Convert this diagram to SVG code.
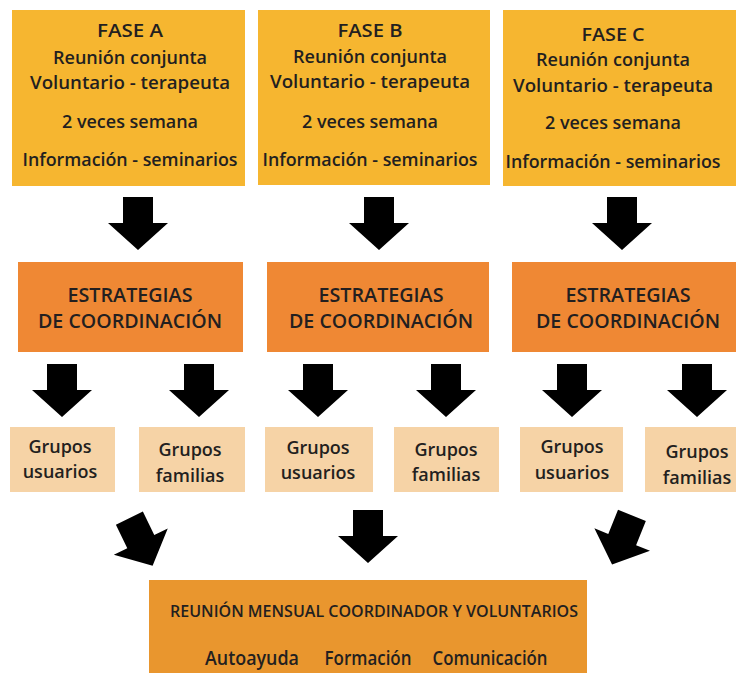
<svg xmlns="http://www.w3.org/2000/svg" width="736" height="673" viewBox="0 0 736 673">
<style>
text{font-family:"Open Sans","Liberation Sans",Arial,sans-serif;font-weight:600;fill:#231f20;text-anchor:middle}
.t1{font-size:18px}
.t2{font-size:19px}
.t3{font-size:19px}
.t5{font-size:18px}
.t4{font-size:16px}
.fase{fill:#f6b630}
.est{fill:#ef8834}
.grp{fill:#f6d3a6}
.reu{fill:#e9962e}
.arr{fill:#000}
</style>
<defs>
<path id="arrow" d="M-15,0 H15 V26 H30 L0,53 L-30,26 H-15 Z"/>
</defs>
<rect width="736" height="673" fill="#fff"/>

<g id="faseA">
<rect class="fase" x="12" y="10" width="233" height="176"/>
<text class="t1" x="130" y="37" textLength="66" lengthAdjust="spacingAndGlyphs">FASE A</text>
<text class="t1" x="130" y="64" textLength="154" lengthAdjust="spacingAndGlyphs">Reunión conjunta</text>
<text class="t1" x="130" y="89" textLength="200" lengthAdjust="spacingAndGlyphs">Voluntario - terapeuta</text>
<text class="t1" x="130" y="128" textLength="136" lengthAdjust="spacingAndGlyphs">2 veces semana</text>
<text class="t1" x="130" y="166" textLength="215" lengthAdjust="spacingAndGlyphs">Información - seminarios</text>
</g>
<g id="faseB">
<rect class="fase" x="258" y="10" width="232" height="175"/>
<text class="t1" x="370" y="37" textLength="65" lengthAdjust="spacingAndGlyphs">FASE B</text>
<text class="t1" x="370" y="63" textLength="154" lengthAdjust="spacingAndGlyphs">Reunión conjunta</text>
<text class="t1" x="370" y="88" textLength="200" lengthAdjust="spacingAndGlyphs">Voluntario - terapeuta</text>
<text class="t1" x="370" y="128" textLength="136" lengthAdjust="spacingAndGlyphs">2 veces semana</text>
<text class="t1" x="370" y="166" textLength="215" lengthAdjust="spacingAndGlyphs">Información - seminarios</text>
</g>
<g id="faseC">
<rect class="fase" x="503" y="10" width="233" height="176"/>
<text class="t1" x="613" y="41" textLength="63" lengthAdjust="spacingAndGlyphs">FASE C</text>
<text class="t1" x="613" y="66" textLength="154" lengthAdjust="spacingAndGlyphs">Reunión conjunta</text>
<text class="t1" x="613" y="92" textLength="200" lengthAdjust="spacingAndGlyphs">Voluntario - terapeuta</text>
<text class="t1" x="613" y="129" textLength="136" lengthAdjust="spacingAndGlyphs">2 veces semana</text>
<text class="t1" x="613" y="168" textLength="215" lengthAdjust="spacingAndGlyphs">Información - seminarios</text>
</g>

<g id="estA">
<rect class="est" x="18" y="262" width="225" height="90"/>
<text class="t2" x="130" y="302" textLength="125" lengthAdjust="spacingAndGlyphs">ESTRATEGIAS</text>
<text class="t2" x="130" y="328" textLength="184" lengthAdjust="spacingAndGlyphs">DE COORDINACIÓN</text>
</g>
<g id="estB">
<rect class="est" x="267" y="262" width="222" height="90"/>
<text class="t2" x="381" y="302" textLength="125" lengthAdjust="spacingAndGlyphs">ESTRATEGIAS</text>
<text class="t2" x="381" y="328" textLength="184" lengthAdjust="spacingAndGlyphs">DE COORDINACIÓN</text>
</g>
<g id="estC">
<rect class="est" x="512" y="262" width="224" height="90"/>
<text class="t2" x="628" y="302" textLength="125" lengthAdjust="spacingAndGlyphs">ESTRATEGIAS</text>
<text class="t2" x="628" y="328" textLength="184" lengthAdjust="spacingAndGlyphs">DE COORDINACIÓN</text>
</g>

<g id="grupoA1">
<rect class="grp" x="10" y="427" width="105" height="65"/>
<text class="t5" x="60" y="453">Grupos</text>
<text class="t5" x="60" y="478">usuarios</text>
</g>
<g id="grupoA2">
<rect class="grp" x="139" y="427" width="106" height="65"/>
<text class="t5" x="190" y="456">Grupos</text>
<text class="t5" x="190" y="482">familias</text>
</g>
<g id="grupoB1">
<rect class="grp" x="265" y="427" width="108" height="65"/>
<text class="t5" x="318" y="454">Grupos</text>
<text class="t5" x="318" y="479">usuarios</text>
</g>
<g id="grupoB2">
<rect class="grp" x="394" y="427" width="105" height="65"/>
<text class="t5" x="446" y="456">Grupos</text>
<text class="t5" x="446" y="481">familias</text>
</g>
<g id="grupoC1">
<rect class="grp" x="520" y="427" width="103" height="65"/>
<text class="t5" x="572" y="453">Grupos</text>
<text class="t5" x="572" y="479">usuarios</text>
</g>
<g id="grupoC2">
<rect class="grp" x="645" y="427" width="91" height="65"/>
<text class="t5" x="697" y="458">Grupos</text>
<text class="t5" x="697" y="484">familias</text>
</g>

<g id="reunion">
<rect class="reu" x="149" y="580" width="438" height="93"/>
<text class="t4" x="374" y="617" textLength="408" lengthAdjust="spacingAndGlyphs">REUNIÓN MENSUAL COORDINADOR Y VOLUNTARIOS</text>
<text class="t3" x="252" y="665" textLength="94" lengthAdjust="spacingAndGlyphs">Autoayuda</text>
<text class="t3" x="368" y="665" textLength="87" lengthAdjust="spacingAndGlyphs">Formación</text>
<text class="t3" x="490" y="665" textLength="115" lengthAdjust="spacingAndGlyphs">Comunicación</text>
</g>

<g id="connectors" class="arr">
<use href="#arrow" x="138" y="197"/>
<use href="#arrow" x="379" y="197"/>
<use href="#arrow" x="622" y="197"/>
<use href="#arrow" x="62" y="364"/>
<use href="#arrow" x="199" y="364"/>
<use href="#arrow" x="318" y="364"/>
<use href="#arrow" x="446" y="364"/>
<use href="#arrow" x="572" y="364"/>
<use href="#arrow" x="697" y="364"/>
<use href="#arrow" transform="translate(141,542) rotate(-26) translate(0,-26.5)"/>
<use href="#arrow" x="368" y="510"/>
<use href="#arrow" transform="translate(622,540) rotate(22) translate(0,-26.5)"/>
</g>
</svg>
